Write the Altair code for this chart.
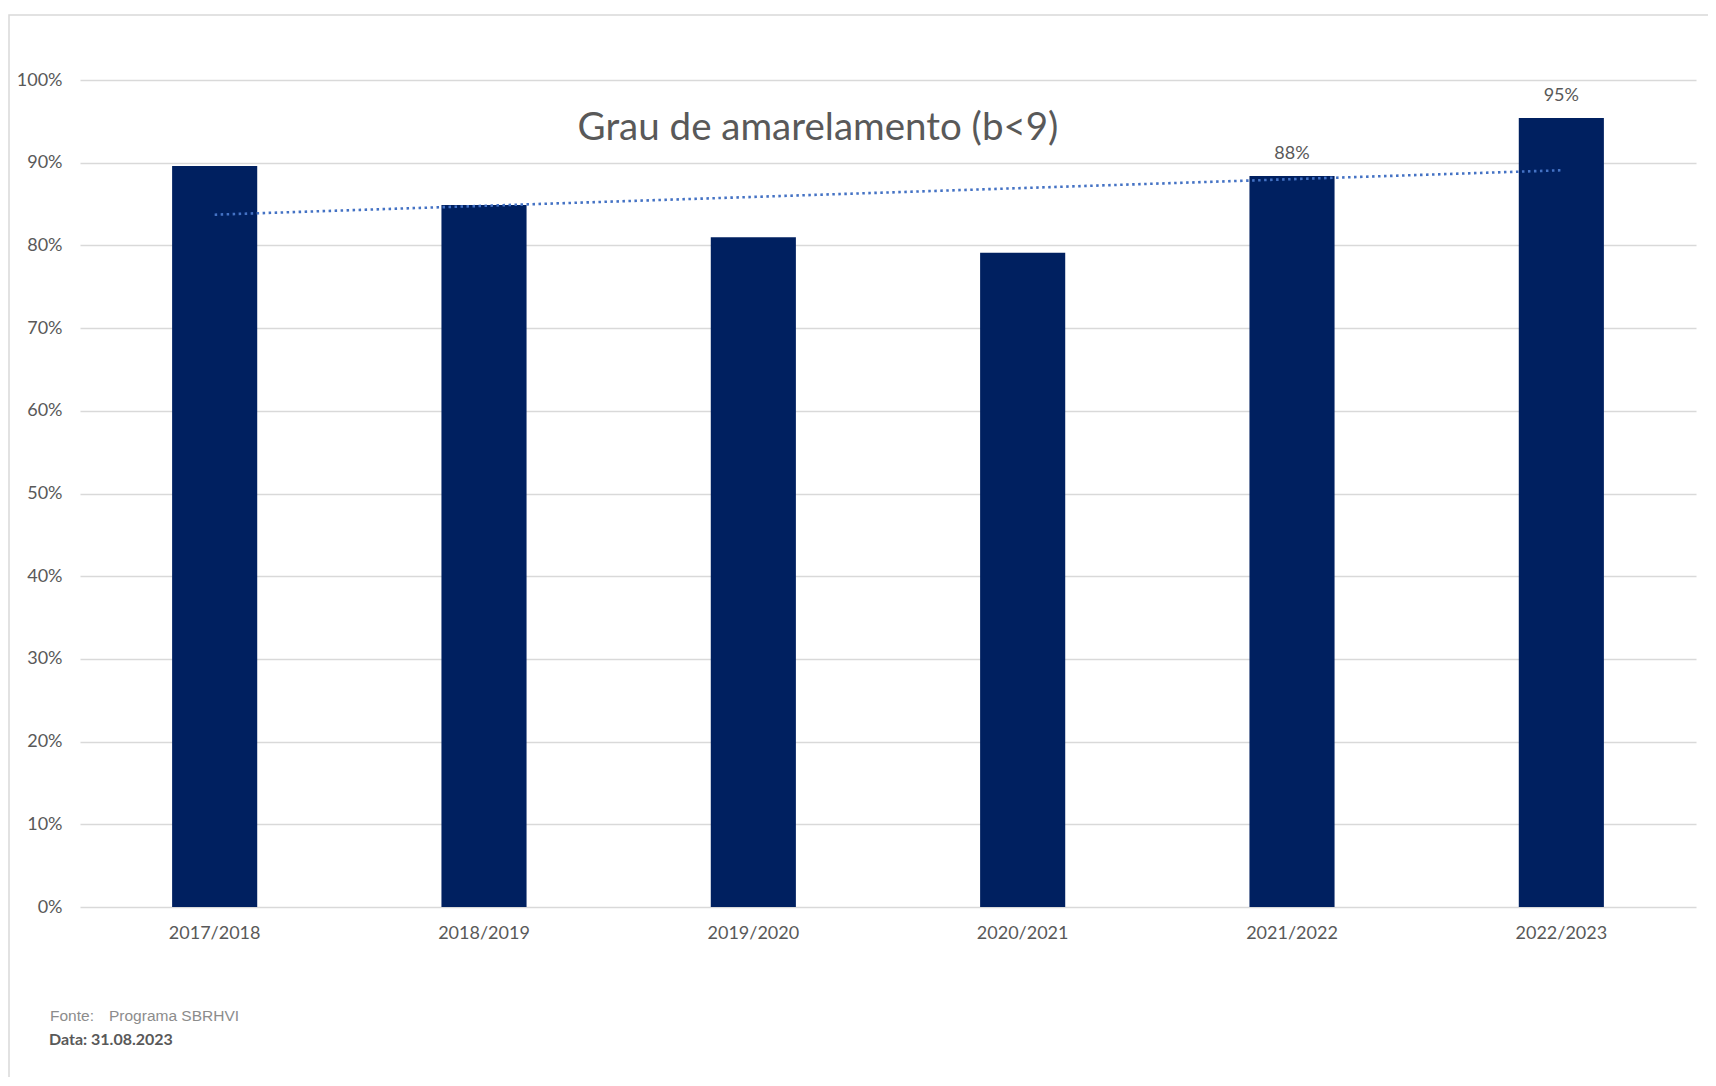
import altair as alt
import pandas as pd

# ---- data ----
seasons = ["2017/2018", "2018/2019", "2019/2020", "2020/2021", "2021/2022", "2022/2023"]
values = [0.896, 0.849, 0.810, 0.791, 0.884, 0.954]
bar_labels = ["", "", "", "", "88%", "95%"]
y_ticks = [0, 0.1, 0.2, 0.3, 0.4, 0.5, 0.6, 0.7, 0.8, 0.9, 1.0]
title_text = ["Grau de amarelamento (b<9)"]
source_label = ["Fonte:"]
source_text = ["Programa SBRHVI"]
date_text = ["Data: 31.08.2023"]

df = pd.DataFrame({
    "season": seasons,
    "value": values,
    "label": bar_labels,
    "idx": list(range(len(seasons))),
})

W, H = 1616, 827
GRAY = "#595959"
FONT = "Lato"

x_band = alt.X(
    "season:N",
    sort=seasons,
    title=None,
    scale=alt.Scale(paddingInner=0.684, paddingOuter=0.342),
    axis=alt.Axis(labelAngle=0, labelFont=FONT, labelFontSize=18, labelColor=GRAY,
                  ticks=False, tickSize=0, domain=False, labelPadding=17, grid=False),
)
y_val = alt.Y(
    "value:Q",
    title=None,
    scale=alt.Scale(domain=[0, 1], nice=False),
    axis=alt.Axis(values=y_ticks, format=".0%", labelFont=FONT, labelFontSize=18,
                  labelColor=GRAY, ticks=False, tickSize=0, domain=False,
                  labelPadding=18, gridColor="#d9d9d9", gridWidth=1.3),
)

base = alt.Chart(df)

bars = base.mark_bar(color="#002060").encode(x=x_band, y=y_val)

labels = base.mark_text(font=FONT, fontSize=18, color=GRAY, baseline="middle", dy=-22).encode(
    x=alt.X("season:N", sort=seasons), y="value:Q", text="label:N"
)

bar_layer = alt.layer(bars, labels)

trend = base.transform_regression("idx", "value").mark_line(
    color="#4472C4", strokeWidth=2.6, strokeDash=[2.5, 3.5]
).encode(
    x=alt.X("idx:Q", scale=alt.Scale(domain=[-0.5, 5.5], nice=False, zero=False), axis=None),
    y=alt.Y("value:Q"),
)

frame = alt.Chart(pd.DataFrame({"f": [0]})).mark_rect(
    fill=None, stroke="#d9d9d9", strokeWidth=1.5, clip=False
).encode(
    x=alt.value(-71), x2=alt.value(W + 200), y=alt.value(-65), y2=alt.value(H + 400)
)

title = alt.Chart(pd.DataFrame({"t": title_text})).mark_text(
    font=FONT, fontSize=38.5, color=GRAY, align="center", baseline="middle"
).encode(text="t:N", x=alt.value(738), y=alt.value(48))

src1 = alt.Chart(pd.DataFrame({"t": source_label})).mark_text(
    font="Liberation Sans", fontSize=15.5, color="#8c8c8c", align="left", baseline="middle"
).encode(text="t:N", x=alt.value(-30), y=alt.value(936))

src2 = alt.Chart(pd.DataFrame({"t": source_text})).mark_text(
    font="Liberation Sans", fontSize=15.5, color="#8c8c8c", align="left", baseline="middle"
).encode(text="t:N", x=alt.value(29), y=alt.value(936))

date = alt.Chart(pd.DataFrame({"t": date_text})).mark_text(
    font=FONT, fontSize=16, fontWeight="bold", color=GRAY, align="left", baseline="middle"
).encode(text="t:N", x=alt.value(-31), y=alt.value(960))

chart = alt.layer(frame, bar_layer, trend, title, src1, src2, date).resolve_scale(
    x="independent"
).properties(
    width=W, height=H,
    autosize=alt.AutoSizeParams(type="none"),
    padding={"left": 72, "top": 72, "right": 12, "bottom": 170},
    background="white",
).configure_view(stroke=None)

chart.save("out.html", embed_options={"renderer": "svg", "actions": False})
